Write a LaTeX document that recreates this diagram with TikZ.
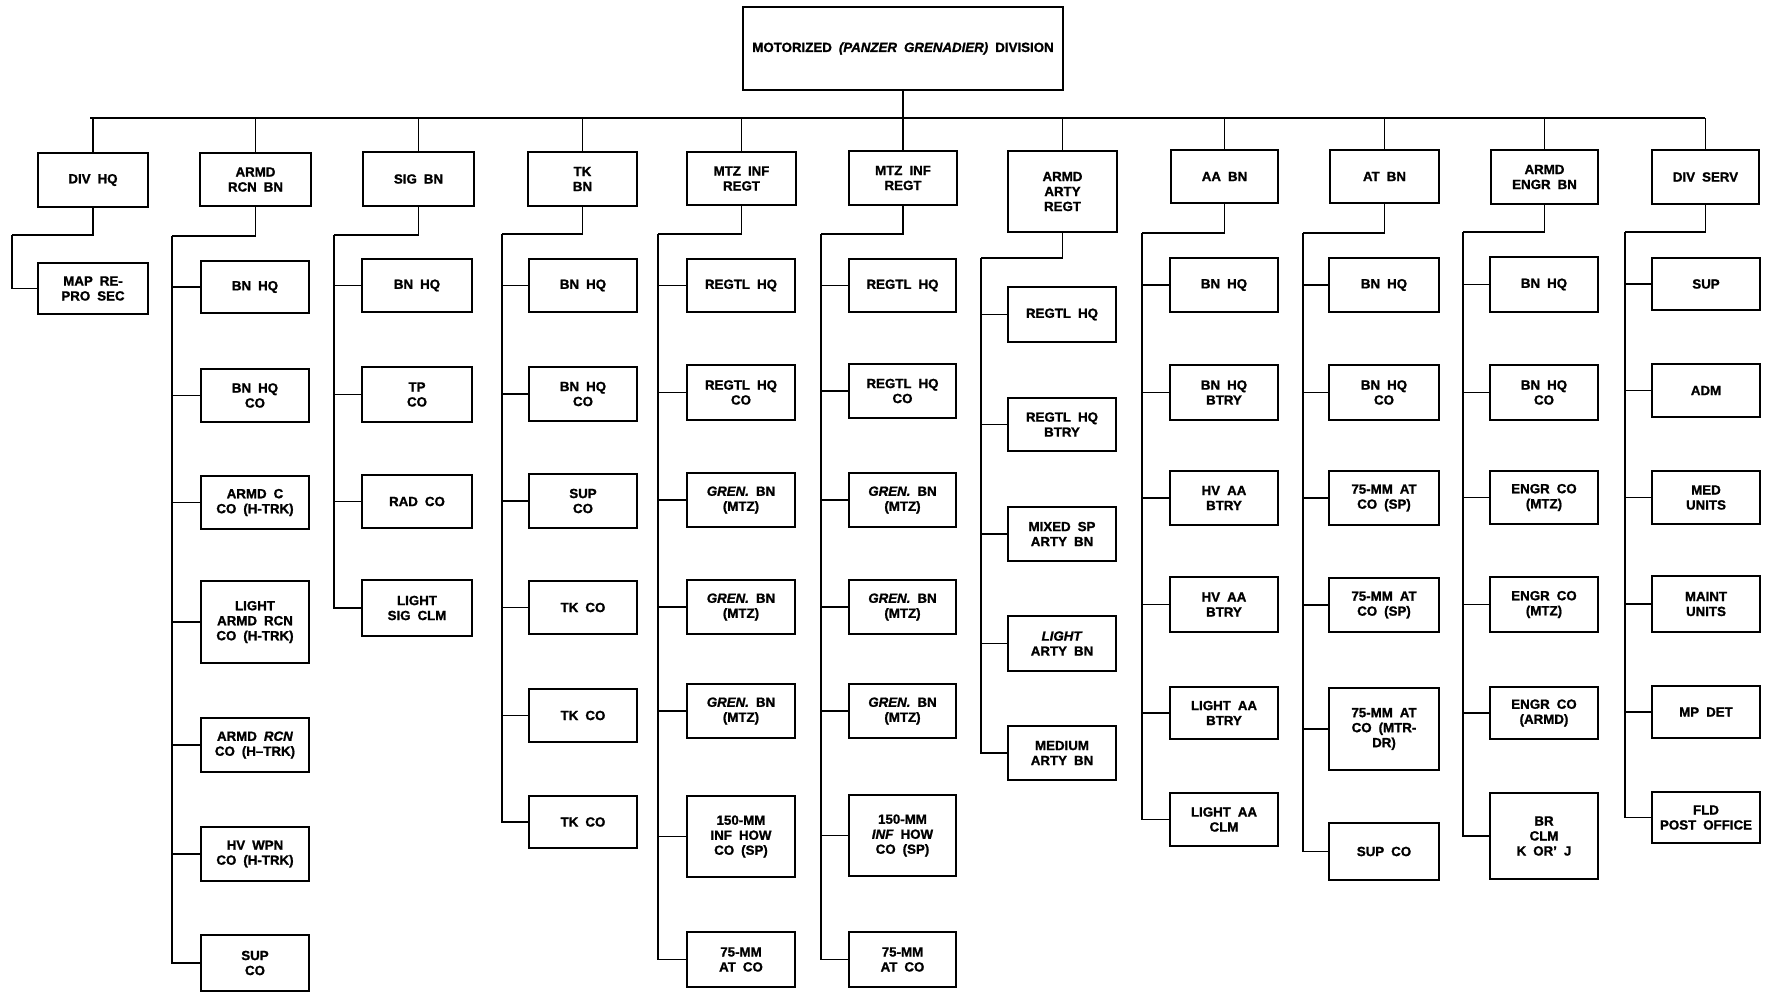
\documentclass[tikz,border=0pt]{standalone}
\usepackage{fontspec}
\setmainfont{Liberation Sans}[WordSpace=1.9,BoldFeatures={FakeBold=1.3},BoldItalicFeatures={FakeBold=1.3}]
\begin{document}
\begin{tikzpicture}[x=1pt,y=-1pt,
  box/.style={draw,line width=1.6pt,inner sep=0pt,outer sep=0pt,align=center,
    font=\bfseries\fontsize{13.3}{15}\selectfont},
  conn/.style={line width=1.2pt,line join=miter}]
\useasboundingbox (0,0) rectangle (1773,993);
\newcommand\bx[6]{\node[box,minimum width={(#4-#2)*1pt},minimum height={(#5-#3)*1pt}] (#1) at ({(#2+#4)/2},{(#3+#5)/2}) {#6};}
\newcommand\kids[5]{\coordinate (#1s) at (#2,#3);
  \draw[conn] (#1.south) |- (#1s);
  \draw[conn] (#1s) |- (#5.west);
  \foreach \c in {#4}{\draw[conn] (#1s |- \c.west) -- (\c.west);}}
% top
\bx{top}{743}{7}{1063}{90}{MOTORIZED \textit{(PANZER GRENADIER)} DIVISION}
% parents
\bx{divhq}{38}{153}{148}{207}{DIV HQ}
\bx{rcn}{200}{153}{311}{206}{ARMD\\RCN BN}
\bx{sig}{363}{152}{474}{206}{SIG BN}
\bx{tk}{528}{152}{637}{206}{TK\\BN}
\bx{infa}{687}{152}{796}{205}{MTZ INF\\REGT}
\bx{infb}{849}{151}{957}{205}{MTZ INF\\REGT}
\bx{arty}{1008}{151}{1117}{232}{ARMD\\ARTY\\REGT}
\bx{aa}{1171}{150}{1278}{203}{AA BN}
\bx{at}{1330}{150}{1439}{203}{AT BN}
\bx{engr}{1491}{150}{1598}{204}{ARMD\\ENGR BN}
\bx{serv}{1652}{150}{1759}{204}{DIV SERV}
% bus
\coordinate (busL) at (90,118);
\coordinate (busR) at (1705,118);
\draw[conn] (busL) -- (busR);
\draw[conn] (top.south) -- (top.south |- busL);
\foreach \p in {divhq,rcn,sig,tk,infa,infb,arty,aa,at,engr,serv}{\draw[conn] (\p.north) -- (\p.north |- busL);}
% col 1
\bx{map}{38}{263}{148}{314}{MAP RE-\\PRO SEC}
\kids{divhq}{12}{235}{map}{map}
% col 2
\bx{r1}{201}{261}{309}{313}{BN HQ}
\bx{r2}{201}{369}{309}{422}{BN HQ\\CO}
\bx{r3}{201}{476}{309}{529}{ARMD C\\CO (H-TRK)}
\bx{r4}{201}{581}{309}{663}{LIGHT\\ARMD RCN\\CO (H-TRK)}
\bx{r5}{201}{718}{309}{772}{ARMD \textit{RCN}\\CO (H--TRK)}
\bx{r6}{201}{827}{309}{881}{HV WPN\\CO (H-TRK)}
\bx{r7}{201}{935}{309}{991}{SUP\\CO}
\kids{rcn}{172}{236}{r1,r2,r3,r4,r5,r6}{r7}
% col 3
\bx{s1}{362}{259}{472}{312}{BN HQ}
\bx{s2}{362}{367}{472}{422}{TP\\CO}
\bx{s3}{362}{475}{472}{528}{RAD CO}
\bx{s4}{362}{580}{472}{636}{LIGHT\\SIG CLM}
\kids{sig}{334}{235}{s1,s2,s3}{s4}
% col 4
\bx{t1}{529}{259}{637}{312}{BN HQ}
\bx{t2}{529}{367}{637}{421}{BN HQ\\CO}
\bx{t3}{529}{474}{637}{528}{SUP\\CO}
\bx{t4}{529}{581}{637}{634}{TK CO}
\bx{t5}{529}{689}{637}{742}{TK CO}
\bx{t6}{529}{796}{637}{848}{TK CO}
\kids{tk}{502}{234}{t1,t2,t3,t4,t5}{t6}
% col 5
\bx{a1}{687}{259}{795}{312}{REGTL HQ}
\bx{a2}{687}{365}{795}{420}{REGTL HQ\\CO}
\bx{a3}{687}{473}{795}{527}{\textit{GREN.} BN\\(MTZ)}
\bx{a4}{687}{580}{795}{634}{\textit{GREN.} BN\\(MTZ)}
\bx{a5}{687}{684}{795}{738}{\textit{GREN.} BN\\(MTZ)}
\bx{a6}{687}{796}{795}{877}{150-MM\\INF HOW\\CO (SP)}
\bx{a7}{687}{932}{795}{987}{75-MM\\AT CO}
\kids{infa}{658}{234}{a1,a2,a3,a4,a5,a6}{a7}
% col 6
\bx{b1}{849}{259}{956}{312}{REGTL HQ}
\bx{b2}{849}{364}{956}{418}{REGTL HQ\\CO}
\bx{b3}{849}{473}{956}{527}{\textit{GREN.} BN\\(MTZ)}
\bx{b4}{849}{580}{956}{634}{\textit{GREN.} BN\\(MTZ)}
\bx{b5}{849}{684}{956}{738}{\textit{GREN.} BN\\(MTZ)}
\bx{b6}{849}{795}{956}{876}{150-MM\\\textit{INF} HOW\\CO (SP)}
\bx{b7}{849}{932}{956}{987}{75-MM\\AT CO}
\kids{infb}{821}{234}{b1,b2,b3,b4,b5,b6}{b7}
% col 7
\bx{c1}{1008}{287}{1116}{342}{REGTL HQ}
\bx{c2}{1008}{398}{1116}{451}{REGTL HQ\\BTRY}
\bx{c3}{1008}{507}{1116}{561}{MIXED SP\\ARTY BN}
\bx{c4}{1008}{616}{1116}{671}{\textit{LIGHT}\\ARTY BN}
\bx{c5}{1008}{726}{1116}{780}{MEDIUM\\ARTY BN}
\kids{arty}{981}{258}{c1,c2,c3,c4}{c5}
% col 8
\bx{d1}{1170}{258}{1278}{312}{BN HQ}
\bx{d2}{1170}{365}{1278}{420}{BN HQ\\BTRY}
\bx{d3}{1170}{471}{1278}{525}{HV AA\\BTRY}
\bx{d4}{1170}{577}{1278}{632}{HV AA\\BTRY}
\bx{d5}{1170}{687}{1278}{739}{LIGHT AA\\BTRY}
\bx{d6}{1170}{793}{1278}{846}{LIGHT AA\\CLM}
\kids{aa}{1142}{233}{d1,d2,d3,d4,d5}{d6}
% col 9
\bx{e1}{1329}{258}{1439}{312}{BN HQ}
\bx{e2}{1329}{365}{1439}{420}{BN HQ\\CO}
\bx{e3}{1329}{471}{1439}{525}{75-MM AT\\CO (SP)}
\bx{e4}{1329}{578}{1439}{632}{75-MM AT\\CO (SP)}
\bx{e5}{1329}{688}{1439}{770}{75-MM AT\\CO (MTR-\\DR)}
\bx{e6}{1329}{823}{1439}{880}{SUP CO}
\kids{at}{1303}{233}{e1,e2,e3,e4,e5}{e6}
% col 10
\bx{f1}{1490}{257}{1598}{312}{BN HQ}
\bx{f2}{1490}{365}{1598}{420}{BN HQ\\CO}
\bx{f3}{1490}{471}{1598}{524}{ENGR CO\\(MTZ)}
\bx{f4}{1490}{577}{1598}{632}{ENGR CO\\(MTZ)}
\bx{f5}{1490}{687}{1598}{739}{ENGR CO\\(ARMD)}
\bx{f6}{1490}{793}{1598}{879}{BR\\CLM\\K OR' J}
\kids{engr}{1463}{232}{f1,f2,f3,f4,f5}{f6}
% col 11
\bx{g1}{1652}{258}{1760}{310}{SUP}
\bx{g2}{1652}{364}{1760}{417}{ADM}
\bx{g3}{1652}{471}{1760}{524}{MED\\UNITS}
\bx{g4}{1652}{576}{1760}{632}{MAINT\\UNITS}
\bx{g5}{1652}{686}{1760}{738}{MP DET}
\bx{g6}{1652}{792}{1760}{843}{FLD\\POST OFFICE}
\kids{serv}{1625}{232}{g1,g2,g3,g4,g5}{g6}
\end{tikzpicture}
\end{document}
